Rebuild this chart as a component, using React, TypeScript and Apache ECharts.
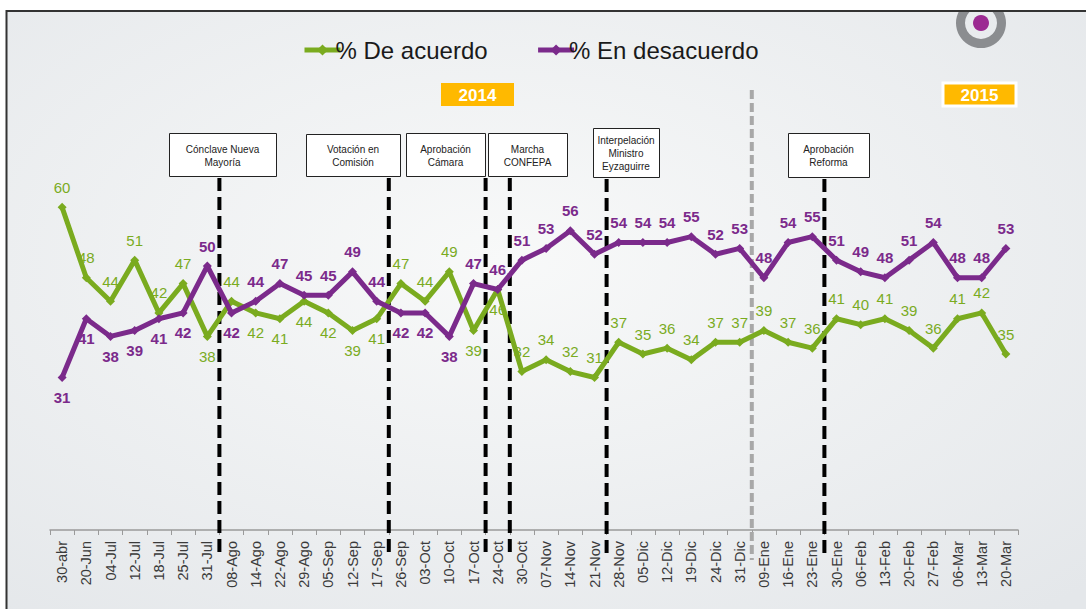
import React, { useEffect, useRef } from "react";
import * as echarts from "echarts";

const categories = [
  "30-abr", "20-Jun", "04-Jul", "12-Jul", "18-Jul", "25-Jul", "31-Jul", "08-Ago", "14-Ago", "22-Ago",
  "29-Ago", "05-Sep", "12-Sep", "17-Sep", "26-Sep", "03-Oct", "10-Oct", "17-Oct", "24-Oct", "30-Oct",
  "07-Nov", "14-Nov", "21-Nov", "28-Nov", "05-Dic", "12-Dic", "19-Dic", "24-Dic", "31-Dic", "09-Ene",
  "16-Ene", "23-Ene", "30-Ene", "06-Feb", "13-Feb", "20-Feb", "27-Feb", "06-Mar", "13-Mar", "20-Mar",
];

const deAcuerdo = [
  60, 48, 44, 51, 42, 47, 38, 44, 42, 41,
  44, 42, 39, 41, 47, 44, 49, 39, 46, 32,
  34, 32, 31, 37, 35, 36, 34, 37, 37, 39,
  37, 36, 41, 40, 41, 39, 36, 41, 42, 35,
];

const enDesacuerdo = [
  31, 41, 38, 39, 41, 42, 50, 42, 44, 47,
  45, 45, 49, 44, 42, 42, 38, 47, 46, 51,
  53, 56, 52, 54, 54, 54, 55, 52, 53, 48,
  54, 55, 51, 49, 48, 51, 54, 48, 48, 53,
];

// label placement (style only)
const acuerdoLabelPos = [
  "top", "top", "top", "top", "top", "top", "bottom", "top", "bottom", "bottom",
  "bottom", "bottom", "bottom", "bottom", "top", "top", "top", "bottom", "bottom", "top",
  "top", "top", "top", "top", "top", "top", "top", "top", "top", "top",
  "top", "top", "top", "top", "top", "top", "top", "top", "top", "top",
];
const desacuerdoLabelPos = [
  "bottom", "bottom", "bottom", "bottom", "bottom", "bottom", "top", "bottom", "top", "top",
  "top", "top", "top", "top", "bottom", "bottom", "bottom", "top", "top", "top",
  "top", "top", "top", "top", "top", "top", "top", "top", "top", "top",
  "top", "top", "top", "top", "top", "top", "top", "top", "top", "top",
];

const seriesNames = ["% De acuerdo", "% En desacuerdo"];
const years = ["2014", "2015"];

// events: index of category after which the event line sits
const eventAfter = [6, 13, 17, 18, 22, 31];
const eventTexts = [
  "Cónclave Nueva\nMayoría",
  "Votación en\nComisión",
  "Aprobación\nCámara",
  "Marcha\nCONFEPA",
  "Interpelación\nMinistro\nEyzaguirre",
  "Aprobación\nReforma",
];
const yearBreakAfter = 28;

const GREEN = "#7aab1f";
const PURPLE = "#7b2a8b";
const FONT = "'Liberation Sans', Arial, sans-serif";

export default function App() {
  const ref = useRef<HTMLDivElement>(null);

  useEffect(() => {
    if (!ref.current) return;
    const chart = echarts.init(ref.current, undefined, { renderer: "svg" });

    const mkData = (vals: number[], pos: string[]) =>
      vals.map((v, i) => ({ value: v, label: { position: pos[i] } }));

    const option: any = {
      animation: false,
      backgroundColor: "#ffffff",
      grid: { left: 50, right: 68, top: 178, bottom: 79 },
      legend: {
        left: 297,
        top: 33,
        itemGap: 48,
        itemWidth: 36,
        itemHeight: 14,
        lineStyle: { width: 5 },
        textStyle: { fontSize: 24, color: "#1a1a1a", fontFamily: FONT, padding: [0, 0, 0, -10] },
        data: seriesNames,
      },
      xAxis: {
        type: "category",
        data: categories,
        boundaryGap: true,
        axisLine: { lineStyle: { color: "#9a9a9a", width: 1.5 } },
        axisTick: { show: true, interval: 0, lineStyle: { color: "#9a9a9a" }, length: 5 },
        axisLabel: {
          interval: 0,
          rotate: 90,
          margin: 11,
          fontSize: 14.5,
          color: "#3a3a3a",
          fontFamily: FONT,
        },
        splitLine: { show: false },
      },
      yAxis: { type: "value", min: 5, max: 65, show: false, splitLine: { show: false } },
      series: [
        {
          name: seriesNames[0],
          type: "line",
          data: mkData(deAcuerdo, acuerdoLabelPos),
          symbol: "diamond",
          symbolSize: 9,
          z: 3,
          lineStyle: { color: GREEN, width: 5 },
          itemStyle: { color: GREEN },
          label: {
            show: true,
            distance: 8,
            color: GREEN,
            fontSize: 15,
            fontFamily: FONT,
          },
        },
        {
          name: seriesNames[1],
          type: "line",
          data: mkData(enDesacuerdo, desacuerdoLabelPos),
          symbol: "diamond",
          symbolSize: 9,
          z: 4,
          lineStyle: { color: PURPLE, width: 5 },
          itemStyle: { color: PURPLE },
          label: {
            show: true,
            distance: 8,
            color: PURPLE,
            fontSize: 15,
            fontWeight: "bold",
            fontFamily: FONT,
          },
        },
      ],
    };
    chart.setOption(option);

    const px = (i: number) => chart.convertToPixel({ xAxisIndex: 0 }, i) as number;
    const mid = (i: number) => (px(i) + px(i + 1)) / 2;

    const boxes = [
      { x: 169, y: 133, w: 107, h: 43 },
      { x: 306, y: 134, w: 94, h: 42 },
      { x: 406, y: 133, w: 79, h: 43 },
      { x: 488, y: 133, w: 79, h: 43 },
      { x: 593, y: 128, w: 66, h: 49 },
      { x: 788, y: 133, w: 81, h: 44 },
    ];

    const graphics: any[] = [];
    // frame background
    graphics.push({
      type: "rect",
      z: -10,
      silent: true,
      shape: { x: 6.5, y: 11, width: 1100, height: 620 },
      style: {
        fill: new echarts.graphic.RadialGradient(0.45, 0.4, 0.75, [
          { offset: 0, color: "#f8f9f9" },
          { offset: 1, color: "#e4e7ea" },
        ]),
        stroke: "#333",
        lineWidth: 2,
      },
    });
    // logo
    graphics.push({
      type: "ring",
      z: -5,
      silent: true,
      shape: { cx: 981, cy: 23, r: 25, r0: 16 },
      style: { fill: "#8b8d90" },
    });
    graphics.push({
      type: "circle",
      z: -5,
      silent: true,
      shape: { cx: 981, cy: 23, r: 8 },
      style: { fill: "#9c2a92" },
    });
    graphics.push({
      type: "rect",
      z: -4,
      silent: true,
      shape: { x: 0, y: 0, width: 1086, height: 10 },
      style: { fill: "#ffffff" },
    });
    graphics.push({
      type: "line",
      z: -4,
      silent: true,
      shape: { x1: 6, y1: 11, x2: 1086, y2: 11 },
      style: { stroke: "#333", lineWidth: 2 },
    });

    // year break line
    const gx = mid(yearBreakAfter);
    graphics.push({
      type: "line",
      z: 1,
      silent: true,
      shape: { x1: gx, y1: 90, x2: gx, y2: 560 },
      style: { stroke: "#a8a8a8", lineWidth: 4, lineDash: [9, 4] },
    });

    // event lines and boxes
    eventAfter.forEach((a, k) => {
      const x = mid(a);
      const b = boxes[k];
      graphics.push({
        type: "line",
        z: 1,
        silent: true,
        shape: { x1: x, y1: b.y + b.h + 2, x2: x, y2: 558 },
        style: { stroke: "#000", lineWidth: 4, lineDash: [13, 6] },
      });
      graphics.push({
        type: "rect",
        z: 5,
        silent: true,
        shape: { x: b.x + 0.5, y: b.y + 0.5, width: b.w, height: b.h },
        style: { fill: "#ffffff", stroke: "#222", lineWidth: 1 },
      });
      graphics.push({
        type: "text",
        z: 6,
        silent: true,
        x: b.x + b.w / 2,
        y: b.y + b.h / 2 + 1,
        style: {
          text: eventTexts[k],
          fill: "#222",
          font: `10px ${FONT}`,
          align: "center",
          verticalAlign: "middle",
          lineHeight: 13,
        },
      });
    });

    // year tags
    const yearBoxes = [
      { x: 441, y: 83, w: 73, h: 23, border: 0 },
      { x: 943, y: 83, w: 73, h: 23, border: 3 },
    ];
    yearBoxes.forEach((b, k) => {
      graphics.push({
        type: "rect",
        z: 5,
        silent: true,
        shape: { x: b.x, y: b.y, width: b.w, height: b.h },
        style: { fill: "#ffb900", stroke: b.border ? "#ffffff" : undefined, lineWidth: b.border },
      });
      graphics.push({
        type: "text",
        z: 6,
        silent: true,
        x: b.x + b.w / 2,
        y: b.y + b.h / 2 + 1,
        style: {
          text: years[k],
          fill: "#ffffff",
          font: `bold 17px ${FONT}`,
          align: "center",
          verticalAlign: "middle",
        },
      });
    });

    chart.setOption({ graphic: { elements: graphics } });

    return () => chart.dispose();
  }, []);

  return (
    <div
      ref={ref}
      style={{ position: "fixed", left: 0, top: 0, width: 1086, height: 609 }}
    />
  );
}
